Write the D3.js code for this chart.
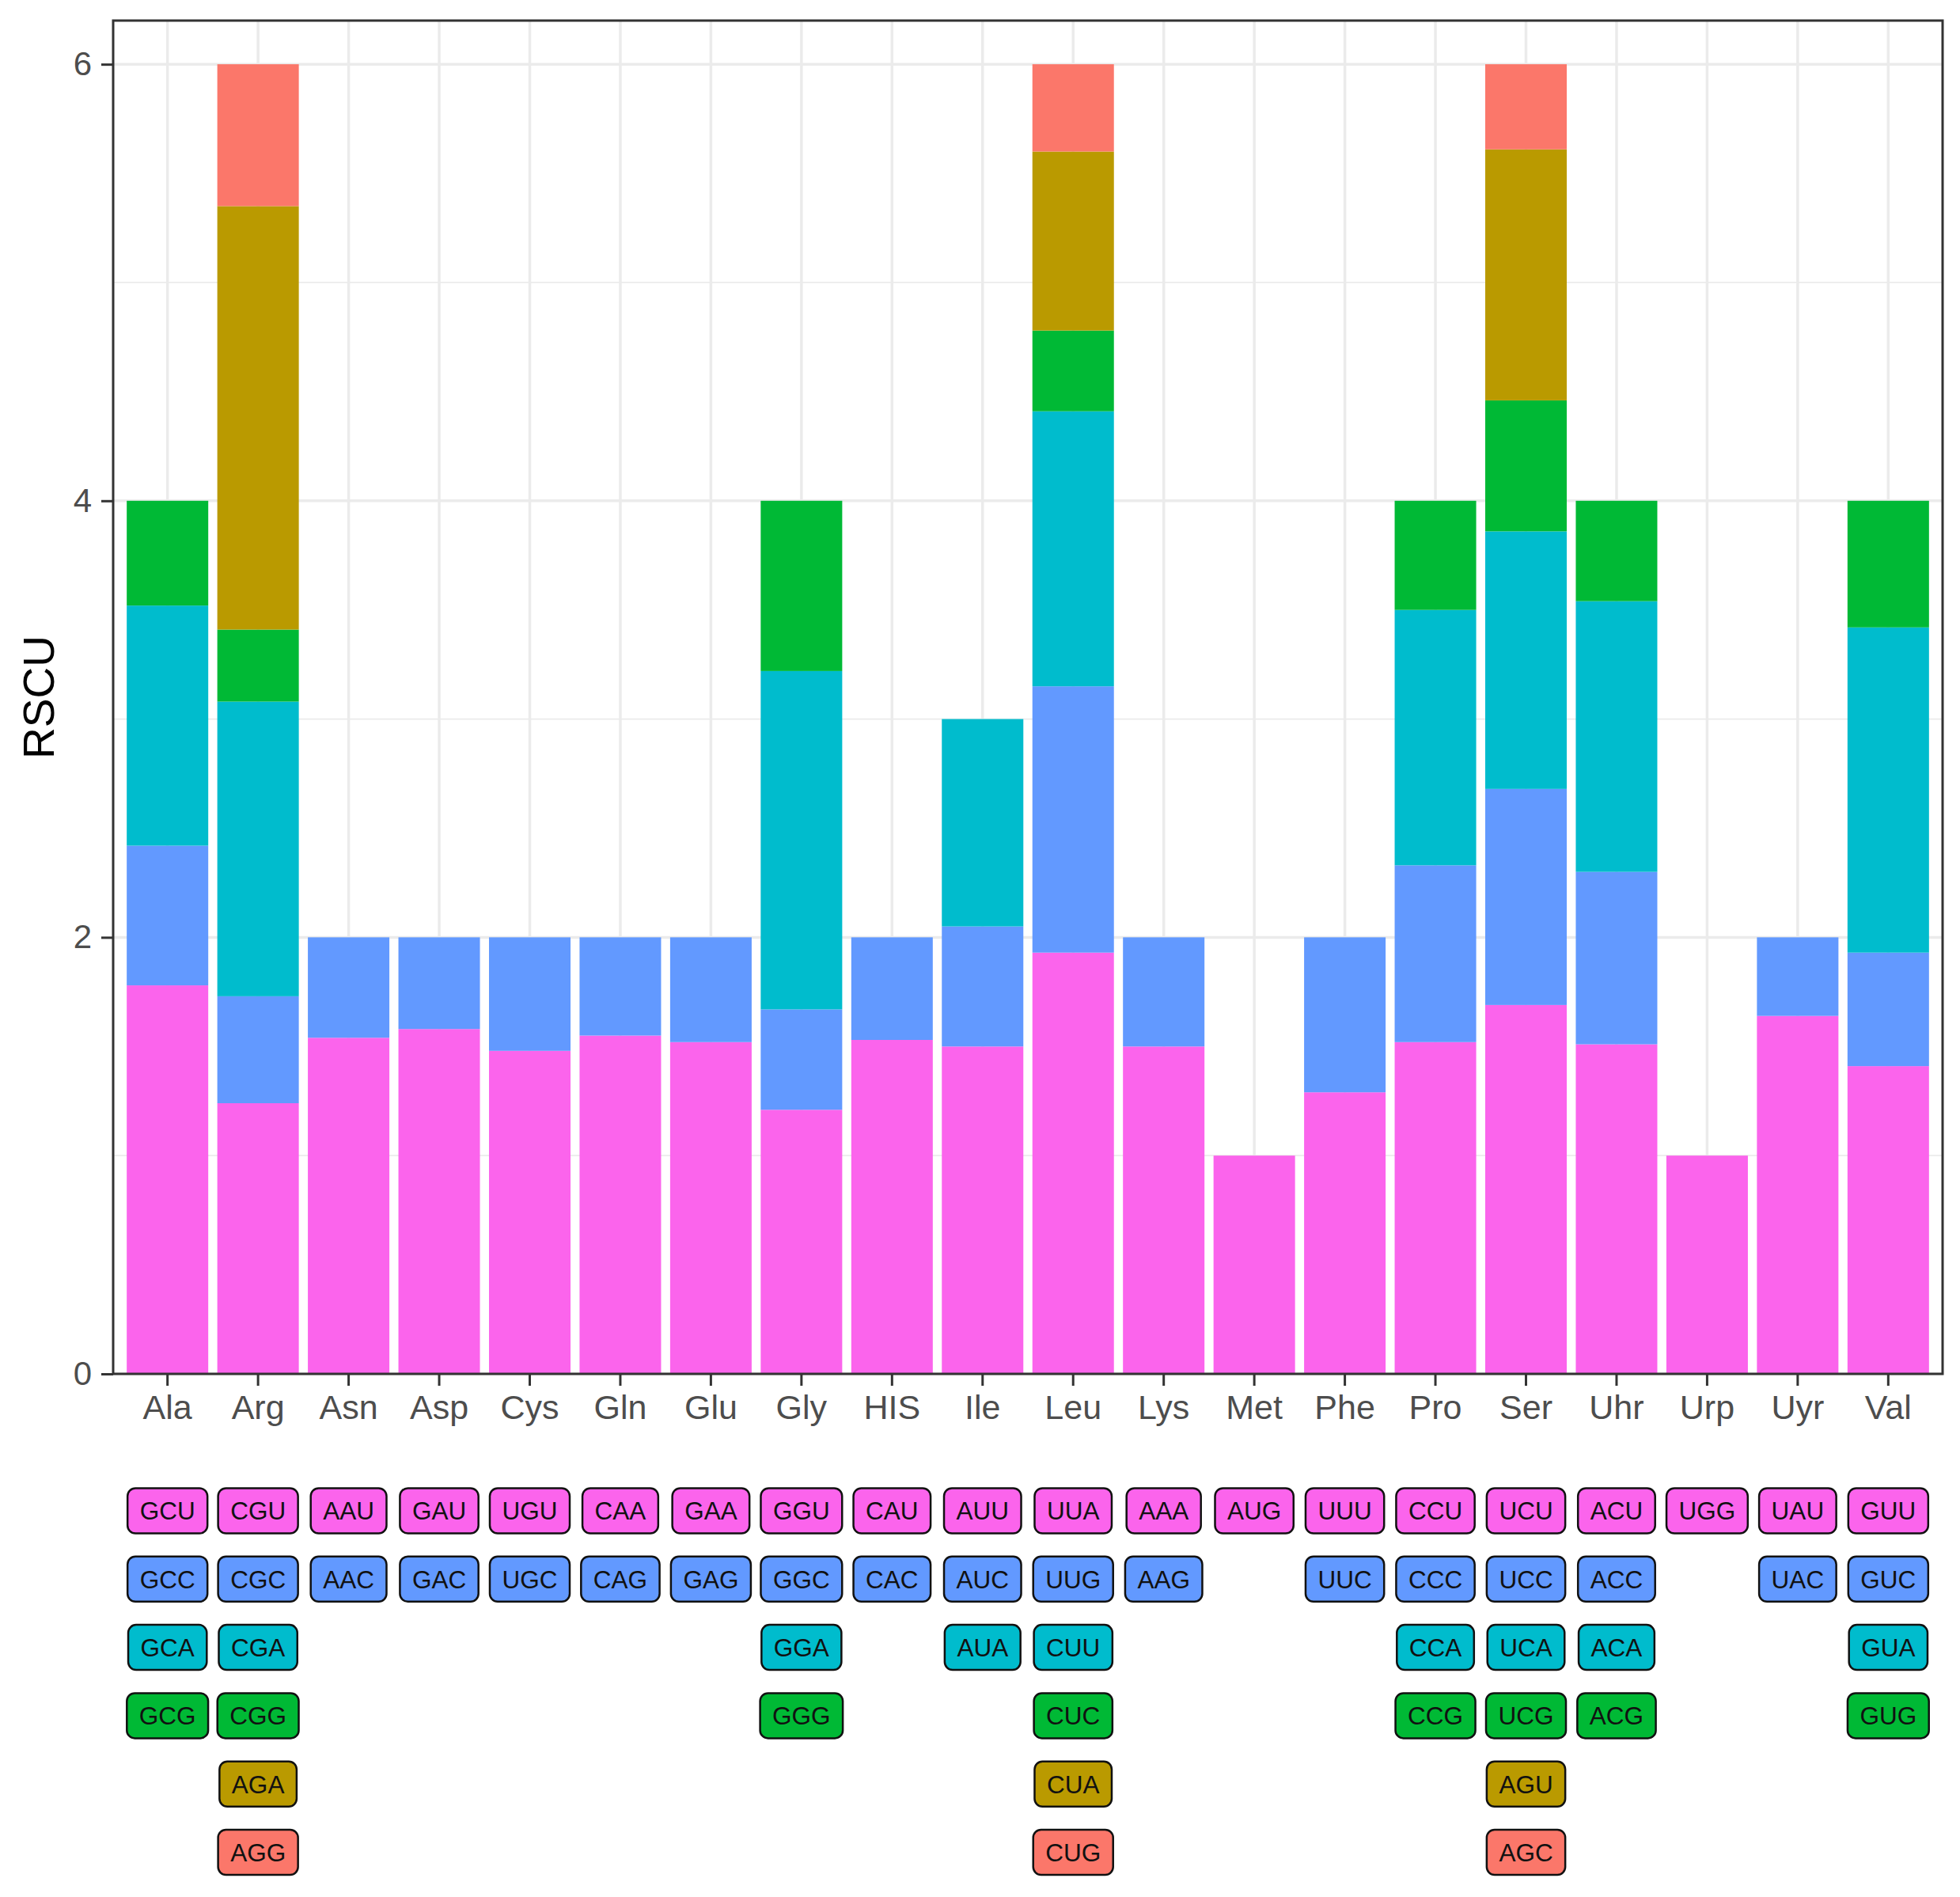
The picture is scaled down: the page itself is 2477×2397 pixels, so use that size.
<!DOCTYPE html>
<html>
<head>
<meta charset="utf-8">
<script src="https://cdn.jsdelivr.net/npm/d3@7"></script>
<style>
  body { margin: 0; background: #fff; }
  text { font-family: "Liberation Sans", Arial, sans-serif; }
</style>
</head>
<body>
<div id="chart"></div>
<script>
// amino acids on the x axis
const aminoAcids = ["Ala", "Arg", "Asn", "Asp", "Cys", "Gln", "Glu", "Gly", "HIS", "Ile",
  "Leu", "Lys", "Met", "Phe", "Pro", "Ser", "Uhr", "Urp", "Uyr", "Val"];

// synonymous codons, bottom of stack first
const codons = [
  ["GCU", "GCC", "GCA", "GCG"],
  ["CGU", "CGC", "CGA", "CGG", "AGA", "AGG"],
  ["AAU", "AAC"],
  ["GAU", "GAC"],
  ["UGU", "UGC"],
  ["CAA", "CAG"],
  ["GAA", "GAG"],
  ["GGU", "GGC", "GGA", "GGG"],
  ["CAU", "CAC"],
  ["AUU", "AUC", "AUA"],
  ["UUA", "UUG", "CUU", "CUC", "CUA", "CUG"],
  ["AAA", "AAG"],
  ["AUG"],
  ["UUU", "UUC"],
  ["CCU", "CCC", "CCA", "CCG"],
  ["UCU", "UCC", "UCA", "UCG", "AGU", "AGC"],
  ["ACU", "ACC", "ACA", "ACG"],
  ["UGG"],
  ["UAU", "UAC"],
  ["GUU", "GUC", "GUA", "GUG"]
];

// RSCU of each codon (same order as codons)
const rscu = [
  [1.78, 0.64, 1.10, 0.48],
  [1.24, 0.49, 1.35, 0.33, 1.94, 0.65],
  [1.54, 0.46],
  [1.58, 0.42],
  [1.48, 0.52],
  [1.55, 0.45],
  [1.52, 0.48],
  [1.21, 0.46, 1.55, 0.78],
  [1.53, 0.47],
  [1.50, 0.55, 0.95],
  [1.93, 1.22, 1.26, 0.37, 0.82, 0.40],
  [1.50, 0.50],
  [1.00],
  [1.29, 0.71],
  [1.52, 0.81, 1.17, 0.50],
  [1.69, 0.99, 1.18, 0.60, 1.15, 0.39],
  [1.51, 0.79, 1.24, 0.46],
  [1.00],
  [1.64, 0.36],
  [1.41, 0.52, 1.49, 0.58]
];

const yTicks = [0, 2, 4, 6];
const yMinor = [1, 3, 5];

// colour by codon position (1st .. 6th)
const colors = ["#FB64EC", "#6299FF", "#00BCCD", "#00B935", "#BA9A00", "#FB776A"];

const W = 2477, H = 2397;
const panel = { left: 143, right: 2455, top: 26, bottom: 1736 };

const svg = d3.select("#chart")
  .append("svg")
  .attr("width", W)
  .attr("height", H);

const x = d3.scaleBand()
  .domain(aminoAcids)
  .range([panel.left, panel.right])
  .paddingInner(0.1)
  .paddingOuter(0.15);

const y = d3.scaleLinear()
  .domain([0, 6.2])
  .range([panel.bottom, panel.top]);

const rowY = d3.scaleLinear()
  .domain([0, 5])
  .range([1909, 2340.5]);

const color = d3.scaleOrdinal().domain(d3.range(6)).range(colors);

// flatten into stacked segments
const segments = [];
aminoAcids.forEach((aa, i) => {
  const cum = d3.cumsum(rscu[i]);
  rscu[i].forEach((v, k) => {
    segments.push({ aa, k, codon: codons[i][k], y0: cum[k] - v, y1: cum[k] });
  });
});

// grid
const grid = svg.append("g");
grid.selectAll(".minor")
  .data(yMinor)
  .enter().append("line")
  .attr("x1", panel.left).attr("x2", panel.right)
  .attr("y1", d => y(d)).attr("y2", d => y(d))
  .attr("stroke", "#EBEBEB").attr("stroke-width", 1.8);
grid.selectAll(".major")
  .data(yTicks)
  .enter().append("line")
  .attr("x1", panel.left).attr("x2", panel.right)
  .attr("y1", d => y(d)).attr("y2", d => y(d))
  .attr("stroke", "#EBEBEB").attr("stroke-width", 3.5);
grid.selectAll(".vert")
  .data(aminoAcids)
  .enter().append("line")
  .attr("x1", d => x(d) + x.bandwidth() / 2).attr("x2", d => x(d) + x.bandwidth() / 2)
  .attr("y1", panel.top).attr("y2", panel.bottom)
  .attr("stroke", "#EBEBEB").attr("stroke-width", 3.5);

// stacked bars
svg.append("g")
  .selectAll("rect")
  .data(segments)
  .enter().append("rect")
  .attr("x", d => x(d.aa))
  .attr("width", x.bandwidth())
  .attr("y", d => y(d.y1))
  .attr("height", d => y(d.y0) - y(d.y1))
  .attr("fill", d => color(d.k));

// panel border
svg.append("rect")
  .attr("x", panel.left).attr("y", panel.top)
  .attr("width", panel.right - panel.left)
  .attr("height", panel.bottom - panel.top)
  .attr("fill", "none")
  .attr("stroke", "#333333")
  .attr("stroke-width", 3);

// axes
const yAxis = svg.append("g")
  .attr("transform", `translate(${panel.left},0)`)
  .call(d3.axisLeft(y).tickValues(yTicks).tickSize(15).tickPadding(12).tickFormat(d3.format("d")));

const xAxis = svg.append("g")
  .attr("transform", `translate(0,${panel.bottom})`)
  .call(d3.axisBottom(x).tickSize(15).tickPadding(11));

[yAxis, xAxis].forEach(a => {
  a.select(".domain").remove();
  a.selectAll(".tick line").attr("stroke", "#333333").attr("stroke-width", 3);
  a.selectAll(".tick text")
    .attr("fill", "#4D4D4D")
    .style("font-family", "'Liberation Sans', Arial, sans-serif");
});
yAxis.selectAll(".tick text").style("font-size", "42px");
xAxis.selectAll(".tick text").style("font-size", "43px");

// y title
svg.append("text")
  .attr("transform", `translate(68,${(panel.top + panel.bottom) / 2}) rotate(-90)`)
  .attr("text-anchor", "middle")
  .style("font-size", "55px")
  .attr("fill", "#000")
  .text("RSCU");

// codon labels under each amino acid
const labels = svg.append("g")
  .selectAll("g")
  .data(segments)
  .enter().append("g")
  .attr("transform", d => `translate(${x(d.aa) + x.bandwidth() / 2},${rowY(d.k)})`);

labels.append("text")
  .attr("text-anchor", "middle")
  .attr("dy", "0.36em")
  .style("font-size", "31.5px")
  .attr("fill", "#111")
  .text(d => d.codon);

labels.insert("rect", "text")
  .each(function () {
    const t = d3.select(this.parentNode).select("text").node();
    const w = t.getComputedTextLength() + 31;
    d3.select(this)
      .attr("x", -w / 2)
      .attr("width", w);
  })
  .attr("y", -28.5)
  .attr("height", 57)
  .attr("rx", 10).attr("ry", 10)
  .attr("fill", d => color(d.k))
  .attr("stroke", "#111")
  .attr("stroke-width", 2.5);
</script>
</body>
</html>
